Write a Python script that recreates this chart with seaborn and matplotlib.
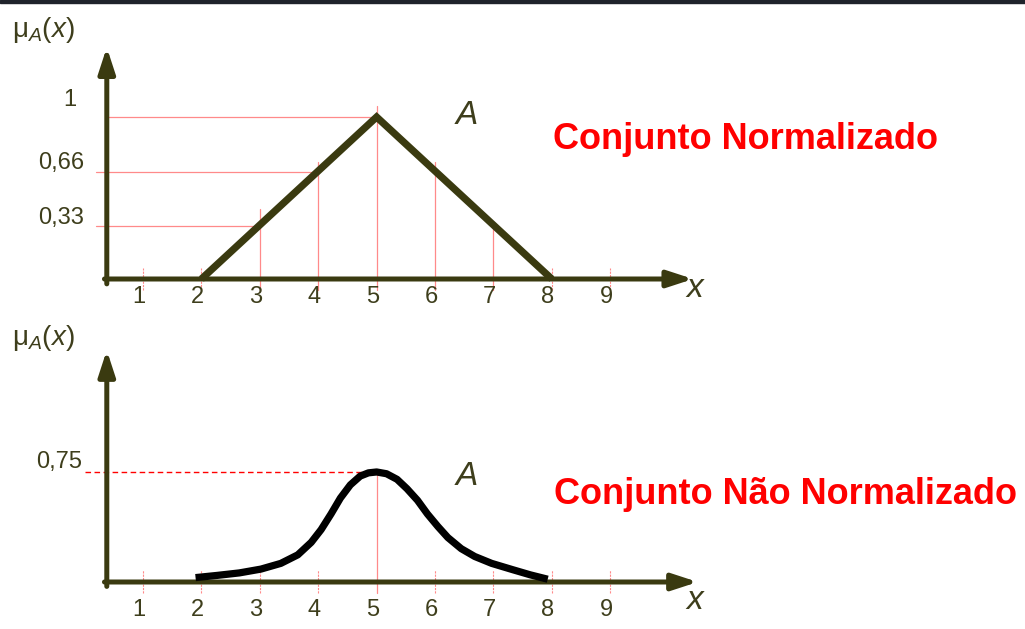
import numpy as np
import pandas as pd
import seaborn as sns
import matplotlib
matplotlib.use("Agg")
import matplotlib.pyplot as plt
from matplotlib.patches import Rectangle

# ---- data -------------------------------------------------------------
x_ticks = [1, 2, 3, 4, 5, 6, 7, 8, 9]
tick_labels = ["1", "2", "3", "4", "5", "6", "7", "8", "9"]

# normalised triangular set A
tri_x = [2, 5, 8]
tri_mu = [0, 1, 0]
tri_levels = [1, 0.66, 0.33]
tri_level_labels = ["1", "0,66", "0,33"]
tri_level_x = [5, 4, 3]          # where each level line meets the set
tri_guides_x = [3, 4, 5, 6, 7]   # solid guide lines under the triangle
tri_guides_top = [0.43, 0.72, 1.07, 0.72, 0.35]

# non-normalised bell-shaped set A
bell_x = [1.90, 2.27, 2.65, 3.02, 3.36, 3.65, 3.88, 4.05, 4.22, 4.38, 4.55,
          4.72, 4.86, 5.00, 5.17, 5.35, 5.52, 5.70, 5.87, 6.05, 6.22, 6.45,
          6.68, 6.97, 7.33, 7.63, 7.93]
bell_mu = [0.030, 0.045, 0.062, 0.088, 0.127, 0.185, 0.270, 0.357, 0.464,
           0.572, 0.662, 0.722, 0.744, 0.750, 0.738, 0.700, 0.636, 0.557,
           0.464, 0.378, 0.303, 0.227, 0.174, 0.127, 0.084, 0.049, 0.019]
bell_height = 0.75
bell_height_label = "0,75"
bell_peak_x = 5

title_top = "Conjunto Normalizado"
title_bottom = "Conjunto Não Normalizado"

# ---- style ------------------------------------------------------------
sns.set_theme(style="white")
plt.rcParams["font.family"] = ["Liberation Sans", "DejaVu Sans"]
plt.rcParams["mathtext.fontset"] = "custom"
plt.rcParams["mathtext.rm"] = "Liberation Sans"
plt.rcParams["mathtext.it"] = "Liberation Sans:italic"

AXIS = "#3a3a10"
TXT = "#3e3e1c"
GUIDE = "#ff8a8a"
RED = "#ff0000"

W, H = 1025, 629
fig = plt.figure(figsize=(W / 100, H / 100), dpi=100)
fig.patch.set_facecolor("white")

# x mapping shared by both panels: 58.4 px per unit, x=0 at 84.6 px
xlim = (-84.6 / 58.4, (W - 84.6) / 58.4)

ax_top = fig.add_axes([0, 0.5, 1, 0.5])
ax_bot = fig.add_axes([0, 0.0, 1, 0.5])
ax_top.set_xlim(*xlim)
ax_bot.set_xlim(*xlim)
ax_top.set_ylim((279 - 314.5) / 162, 279 / 162)
ax_bot.set_ylim((582 - 629) / 146.7, (582 - 314.5) / 146.7)
for ax in (ax_top, ax_bot):
    ax.set_axis_off()


def draw_axes(ax, y_top, x_right, y_floor):
    arrow = dict(arrowstyle="-|>,head_length=0.95,head_width=0.31",
                 lw=3.6, color=AXIS, shrinkA=0, shrinkB=0, mutation_scale=16)
    ax.annotate("", xy=(0.38, y_top), xytext=(0.38, y_floor),
                arrowprops=arrow, zorder=4)
    ax.annotate("", xy=(x_right, 0), xytext=(0.34, 0),
                arrowprops=arrow, zorder=4)


# ---- top panel --------------------------------------------------------
for lvl, xe in zip(tri_levels, tri_level_x):
    x0 = 0.40 if lvl == 1 else 0.2
    ax_top.plot([x0, xe], [lvl, lvl], color=GUIDE, lw=0.9, zorder=2)
for gx, gt in zip(tri_guides_x, tri_guides_top):
    ax_top.plot([gx, gx], [-0.068, gt], color=GUIDE, lw=0.9, zorder=2)
for tx in x_ticks:
    if tx not in tri_guides_x:
        ax_top.plot([tx, tx], [-0.07, 0.07], color=GUIDE, lw=0.8,
                    ls=(0, (2, 1)), zorder=2)

sns.lineplot(x=tri_x, y=tri_mu, ax=ax_top, color=AXIS, lw=5.2,
             solid_joinstyle="miter", solid_capstyle="butt", zorder=5,
             legend=False, sort=False)
draw_axes(ax_top, 1.43, 10.42, -0.03)

for t, lab in zip(x_ticks, tick_labels):
    ax_top.text(t - 0.07, -0.11, lab, fontsize=17, color=TXT,
                ha="center", va="center")
ax_top.text(-0.25, 1.105, tri_level_labels[0], fontsize=17, color=TXT,
            ha="center", va="center")
ax_top.text(-0.01, 0.716, tri_level_labels[1], fontsize=17, color=TXT,
            ha="right", va="center")
ax_top.text(-0.01, 0.377, tri_level_labels[2], fontsize=17, color=TXT,
            ha="right", va="center")
ax_top.text(-1.24, 1.537, r"μ$_{A}$($x$)", fontsize=20, color=TXT,
            ha="left", va="center")
ax_top.text(10.45, -0.06, "x", fontsize=24, style="italic", color=TXT,
            ha="center", va="center")
ax_top.text(6.55, 1.01, "A", fontsize=24, style="italic", color=TXT,
            ha="center", va="center")
ax_top.text(8.02, 0.80, title_top, fontsize=26, fontweight="bold",
            color=RED, ha="left", va="baseline")

# ---- bottom panel -----------------------------------------------------
ax_bot.plot([0.0, bell_peak_x], [bell_height, bell_height], color=RED,
            lw=1.0, ls=(0, (4, 2.5)), zorder=2)
ax_bot.plot([bell_peak_x, bell_peak_x], [-0.075, bell_height],
            color=GUIDE, lw=0.9, zorder=2)
for tx in x_ticks:
    if tx != bell_peak_x:
        ax_bot.plot([tx, tx], [-0.075, 0.082], color=GUIDE, lw=0.8,
                    ls=(0, (2, 1)), zorder=2)

sns.lineplot(x=bell_x, y=bell_mu, ax=ax_bot, color="black", lw=5.2,
             solid_joinstyle="round", solid_capstyle="butt", zorder=5,
             legend=False, sort=False)
draw_axes(ax_bot, 1.58, 10.5, -0.03)

for t, lab in zip(x_ticks, tick_labels):
    ax_bot.text(t - 0.07, -0.19, lab, fontsize=17, color=TXT,
                ha="center", va="center")
ax_bot.text(-0.045, 0.818, bell_height_label, fontsize=17, color=TXT,
            ha="right", va="center")
ax_bot.text(-1.24, 1.663, r"μ$_{A}$($x$)", fontsize=20, color=TXT,
            ha="left", va="center")
ax_bot.text(10.45, -0.123, "x", fontsize=24, style="italic", color=TXT,
            ha="center", va="center")
ax_bot.text(6.55, 0.716, "A", fontsize=24, style="italic", color=TXT,
            ha="center", va="center")
ax_bot.text(8.04, 0.53, title_bottom, fontsize=26, fontweight="bold",
            color=RED, ha="left", va="baseline")

# dark rule along the top edge
fig.add_artist(Rectangle((0, 1 - 3 / H), 1, 3 / H, transform=fig.transFigure,
                         color="#1f232b", zorder=10))

fig.savefig("out.png", dpi=100, facecolor="white")
